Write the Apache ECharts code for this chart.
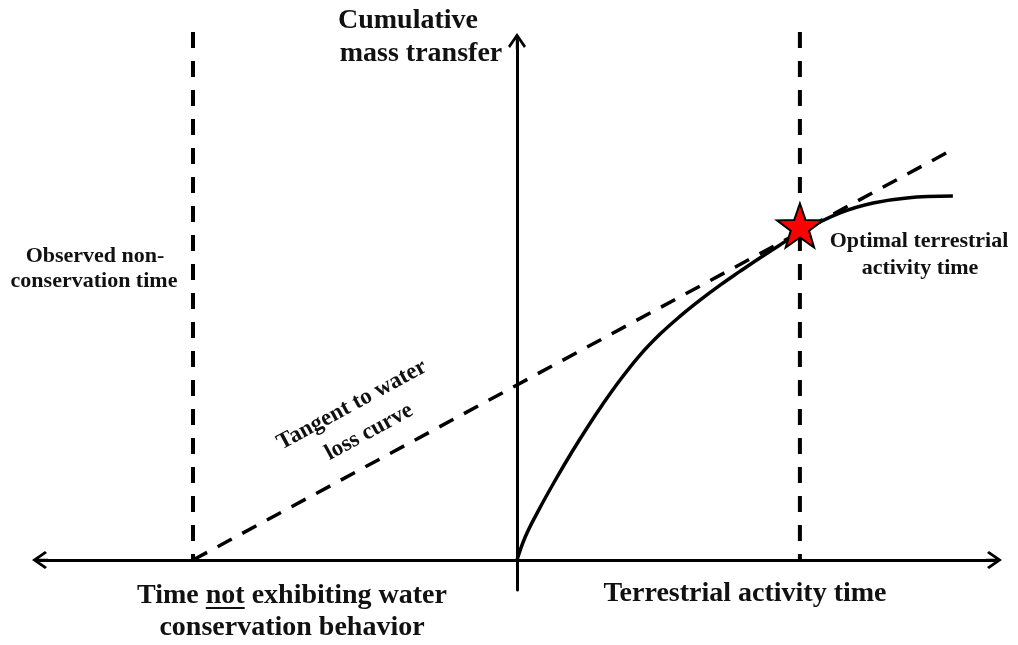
<!DOCTYPE html>
<html>
<head>
<meta charset="utf-8">
<script src="https://cdn.jsdelivr.net/npm/echarts@6/dist/echarts.min.js"></script>
<style>
  html, body { margin: 0; padding: 0; background: #fff; }
  #chart { width: 1018px; height: 645px; }
</style>
</head>
<body>
<div id="chart"></div>
<script>
// water loss curve (x = terrestrial time, y = cumulative mass transfer)
const curveX = [0, 0.27, 0.7, 1.27, 1.83, 2.37, 2.83, 3.43, 4.1, 4.77, 5.43, 6.1, 6.77, 7.43, 7.93, 8.7, 9.43, 10.77, 11.87, 13.0, 14.53]
const curveY = [0, 0.76, 1.62, 2.65, 3.6, 4.46, 5.15, 5.99, 6.83, 7.53, 8.12, 8.66, 9.16, 9.62, 9.96, 10.46, 10.92, 11.57, 11.9, 12.07, 12.13]

// tangent line, from the x-axis crossing to its far end
const tangentX = [-10.8, 14.37]
const tangentY = [0, 13.6]

// vertical guides
const observedX = -10.8
const optimalX = 9.43
const guideTop = 17.6

// optimum point
const optimum = [9.43, 11.15]

const xRange = [-15.9, 15.9]
const yRange = [-1, 17.3]

const FONT = '"Liberation Serif", "Times New Roman", serif'
const chevron = 'path://M9,0 L18,13 L16,15 L10.2,6.6 L10.2,16 L7.8,16 L7.8,6.6 L2,15 L0,13 Z'
const star = 'path://M50,0 L61.76,33.82 L97.55,34.55 L69.02,56.18 L79.39,90.45 L50,70 L20.61,90.45 L30.98,56.18 L2.45,34.55 L38.24,33.82 Z'

const zip = (xs, ys) => xs.map((x, i) => [x, ys[i]])

const dashed = {color: '#000', width: 4, type: [16, 13]}

const measure = (txt, font) => {
  const ctx = document.createElement('canvas').getContext('2d')
  ctx.font = font
  return ctx.measureText(txt).width
}

const text = (txt, x, y, size, rotation) => ({
  type: 'text',
  x, y,
  rotation: rotation || 0,
  style: {
    text: txt,
    font: `bold ${size}px ${FONT}`,
    fill: '#111',
    align: 'center',
    verticalAlign: 'middle'
  }
})

// underline under "not"
const bigFont = `bold 28px ${FONT}`
const line1 = 'Time not exhibiting water'
const line1Start = 292 - measure(line1, bigFont) / 2
const notStart = line1Start + measure('Time ', bigFont)
const notEnd = notStart + measure('not', bigFont)

const tilt = Math.atan(0.5417)

const option = {
  animation: false,
  grid: {left: 40, right: 24, top: 41, bottom: 55},
  xAxis: {
    type: 'value',
    min: xRange[0],
    max: xRange[1],
    axisLine: {
      show: true,
      onZero: true,
      symbol: [chevron, chevron],
      symbolSize: [18, 16],
      lineStyle: {color: '#000', width: 3}
    },
    axisTick: {show: false},
    axisLabel: {show: false},
    splitLine: {show: false}
  },
  yAxis: {
    type: 'value',
    min: yRange[0],
    max: yRange[1],
    axisLine: {
      show: true,
      onZero: true,
      symbol: ['none', chevron],
      symbolSize: [18, 16],
      lineStyle: {color: '#000', width: 3}
    },
    axisTick: {show: false},
    axisLabel: {show: false},
    splitLine: {show: false}
  },
  series: [
    {
      type: 'line',
      data: [[observedX, guideTop], [observedX, 0]],
      showSymbol: false,
      clip: false,
      lineStyle: dashed
    },
    {
      type: 'line',
      data: [[optimalX, guideTop], [optimalX, 0]],
      showSymbol: false,
      clip: false,
      lineStyle: dashed
    },
    {
      type: 'line',
      data: zip(tangentX, tangentY),
      showSymbol: false,
      lineStyle: {color: '#000', width: 3.5, type: [16, 12]}
    },
    {
      type: 'line',
      data: zip(curveX, curveY),
      smooth: 0.4,
      showSymbol: false,
      lineStyle: {color: '#000', width: 3.5}
    },
    {
      type: 'scatter',
      data: [optimum],
      symbol: star,
      symbolSize: [46, 44],
      itemStyle: {color: '#f00', borderColor: '#000', borderWidth: 2, opacity: 1},
      z: 5
    }
  ],
  graphic: [
    text('Cumulative', 408, 21, 28),
    text('mass transfer', 421, 54, 28),
    text(line1, 292, 596, 28),
    text('conservation behavior', 292, 628, 28),
    text('Terrestrial activity time', 745, 594, 28),
    text('Observed non-', 95, 256, 22),
    text('conservation time', 94, 281, 22),
    text('Optimal terrestrial', 919, 241, 22),
    text('activity time', 920, 268, 22),
    text('Tangent to water', 352, 405, 23, tilt),
    text('loss curve', 369, 432, 23, tilt),
    {
      type: 'line',
      shape: {x1: notStart, y1: 608, x2: notEnd, y2: 608},
      style: {stroke: '#111', lineWidth: 2}
    }
  ]
}

const chart = echarts.init(document.getElementById('chart'))
chart.setOption(option)
</script>
</body>
</html>
